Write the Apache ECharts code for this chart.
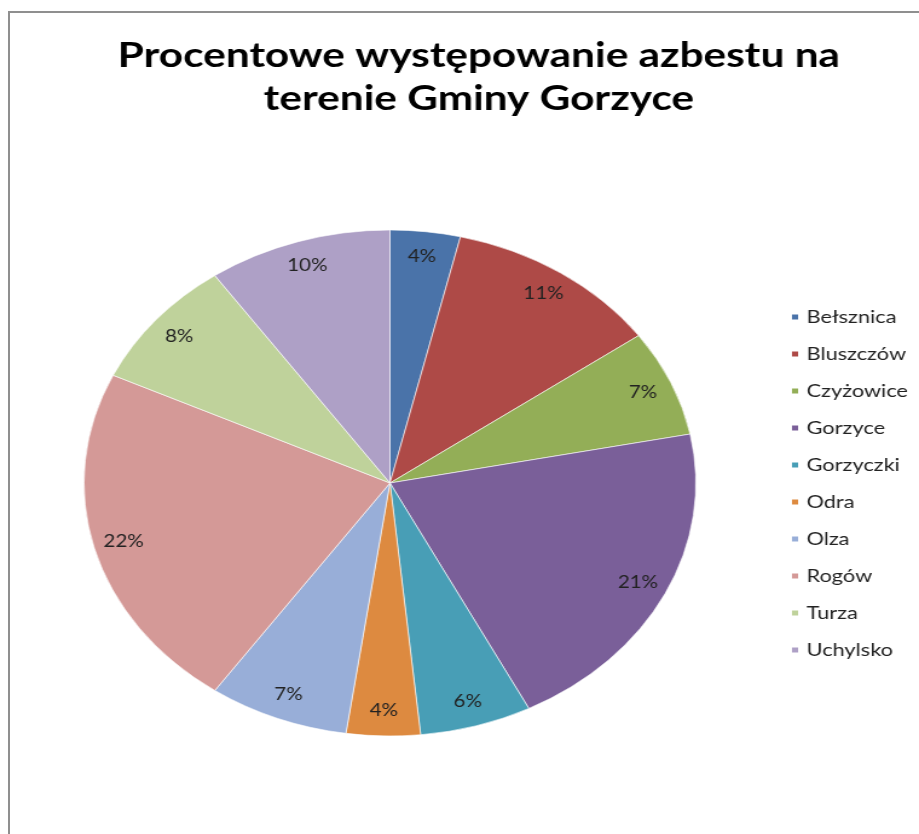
<!DOCTYPE html>
<html>
<head>
<meta charset="utf-8">
<script src="https://cdn.jsdelivr.net/npm/echarts@6/dist/echarts.min.js"></script>
<style>
  html, body { margin: 0; padding: 0; background: #fff; overflow: hidden; }
  #frame {
    position: absolute; left: 8px; top: 11px; width: 930px; height: 840px;
    border-left: 2px solid #8f8f8f; border-top: 2px solid #8f8f8f;
  }
  /* the reference is a horizontally stretched Excel chart, so stretch ours too */
  #chart {
    position: absolute; left: 0; top: 0; width: 760px; height: 834px;
    transform: scaleX(1.2092); transform-origin: 0 0;
  }
</style>
</head>
<body>
<div id="frame"></div>
<div id="chart"></div>
<script>
const titleText = 'Procentowe występowanie azbestu na\nterenie Gminy Gorzyce';
const places = ['Bełsznica', 'Bluszczów', 'Czyżowice', 'Gorzyce', 'Gorzyczki', 'Odra', 'Olza', 'Rogów', 'Turza', 'Uchylsko'];
const shares = [3.7, 11.4, 6.8, 20.6, 5.9, 3.9, 7.4, 22.3, 8.3, 9.7];
const colors = ['#4a73a9', '#ae4a47', '#93ae57', '#7a5f99', '#489eb6', '#dd8a40', '#98aed8', '#d49997', '#bfd29b', '#aea0c6'];

const chart = echarts.init(document.getElementById('chart'), null, { renderer: 'canvas' });
const pieData = places.map((name, i) => ({ name, value: shares[i] }));
const font = 'Lato, "Open Sans", sans-serif';

chart.setOption({
  animation: false,
  color: colors,
  title: {
    text: titleText,
    left: 391,
    textAlign: 'center',
    top: 29,
    textStyle: { fontFamily: font, fontWeight: 'bold', fontSize: 35, lineHeight: 43, color: '#000' },
  },
  legend: {
    orient: 'vertical',
    left: 648,
    top: 303,
    icon: 'rect',
    itemWidth: 7,
    itemHeight: 7,
    itemGap: 19,
    data: places,
    textStyle: { fontFamily: font, fontSize: 18, color: '#222', padding: [0, 0, 0, 1] },
  },
  series: [
    {
      type: 'pie',
      center: [322.5, 483],
      radius: 253,
      startAngle: 90,
      clockwise: true,
      silent: true,
      label: { show: false },
      labelLine: { show: false },
      itemStyle: { borderColor: '#fff', borderWidth: 0.6 },
      data: pieData,
    },
    {
      // transparent ring, only used to put the percent labels near the rim
      type: 'pie',
      center: [322.5, 483],
      radius: [197, 253],
      startAngle: 90,
      clockwise: true,
      silent: true,
      legendHoverLink: false,
      itemStyle: { color: 'rgba(0,0,0,0)' },
      labelLine: { show: false },
      label: {
        show: true,
        position: 'inside',
        fontFamily: font,
        fontSize: 17,
        color: '#222',
        formatter: (p) => Math.round(p.percent) + '%',
      },
      data: pieData,
    },
  ],
});
</script>
</body>
</html>
